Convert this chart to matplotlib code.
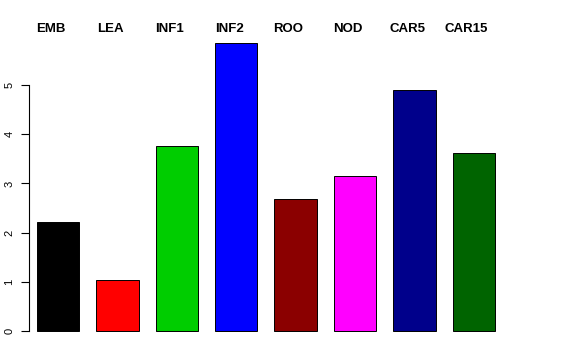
"""
Bar chart of mean values per sample group, R barplot look.
"""
import matplotlib
matplotlib.use('Agg')
import numpy as np
import matplotlib.pyplot as plt
import matplotlib.transforms as mtransforms

# data
groups = ['EMB', 'LEA', 'INF1', 'INF2', 'ROO', 'NOD', 'CAR5', 'CAR15']
values = [2.22, 1.04, 3.76, 5.85, 2.68, 3.15, 4.90, 3.62]
colors = ['#000000', '#FF0000', '#00CD00', '#0000FF',
          '#8B0000', '#FF00FF', '#00008B', '#006400']
yticks = [0, 1, 2, 3, 4, 5]

plt.rcParams['font.family'] = ['Liberation Sans', 'DejaVu Sans']

fig = plt.figure(figsize=(5.76, 3.6), dpi=100)
W, H = 576, 360
# axes region in pixels (left spine sits at x=29)
ax_l, ax_r = 29, 520
ax_t, ax_b = 31.7, 342.5
ax = fig.add_axes([ax_l / W, 1 - ax_b / H, (ax_r - ax_l) / W, (ax_b - ax_t) / H])

# R-style positions: width 1, space 0.4
px_per_unit = 42.4
width = 1.0
lefts = 0.4 + 1.4 * np.arange(len(groups))
centers = lefts + width / 2

ax.bar(centers, values, width=width, color=colors,
       edgecolor='black', linewidth=0.7)

x0 = 0.4 - 8 / px_per_unit
ax.set_xlim(x0, x0 + (ax_r - ax_l) / px_per_unit)
top = max(values)
ax.set_ylim(-0.04 * top, top * 1.04)

for side in ['top', 'right', 'bottom']:
    ax.spines[side].set_visible(False)
ax.spines['left'].set_bounds(0, 5)
ax.spines['left'].set_linewidth(0.8)
ax.set_xticks([])
ax.set_yticks(yticks)
ax.set_yticklabels([str(t) for t in yticks], rotation=90, va='center',
                   fontsize=8)
ax.tick_params(axis='y', length=5.5, width=0.8, pad=5)

# group labels across the top
trans = mtransforms.blended_transform_factory(ax.transData, fig.transFigure)
for c, g in zip(centers, groups):
    ax.text(c - 0.17, 1 - 29.5 / H, g, transform=trans, ha='center',
            va='center', fontsize=9.5, fontweight='bold', clip_on=False)

fig.savefig('out.png', dpi=100)
